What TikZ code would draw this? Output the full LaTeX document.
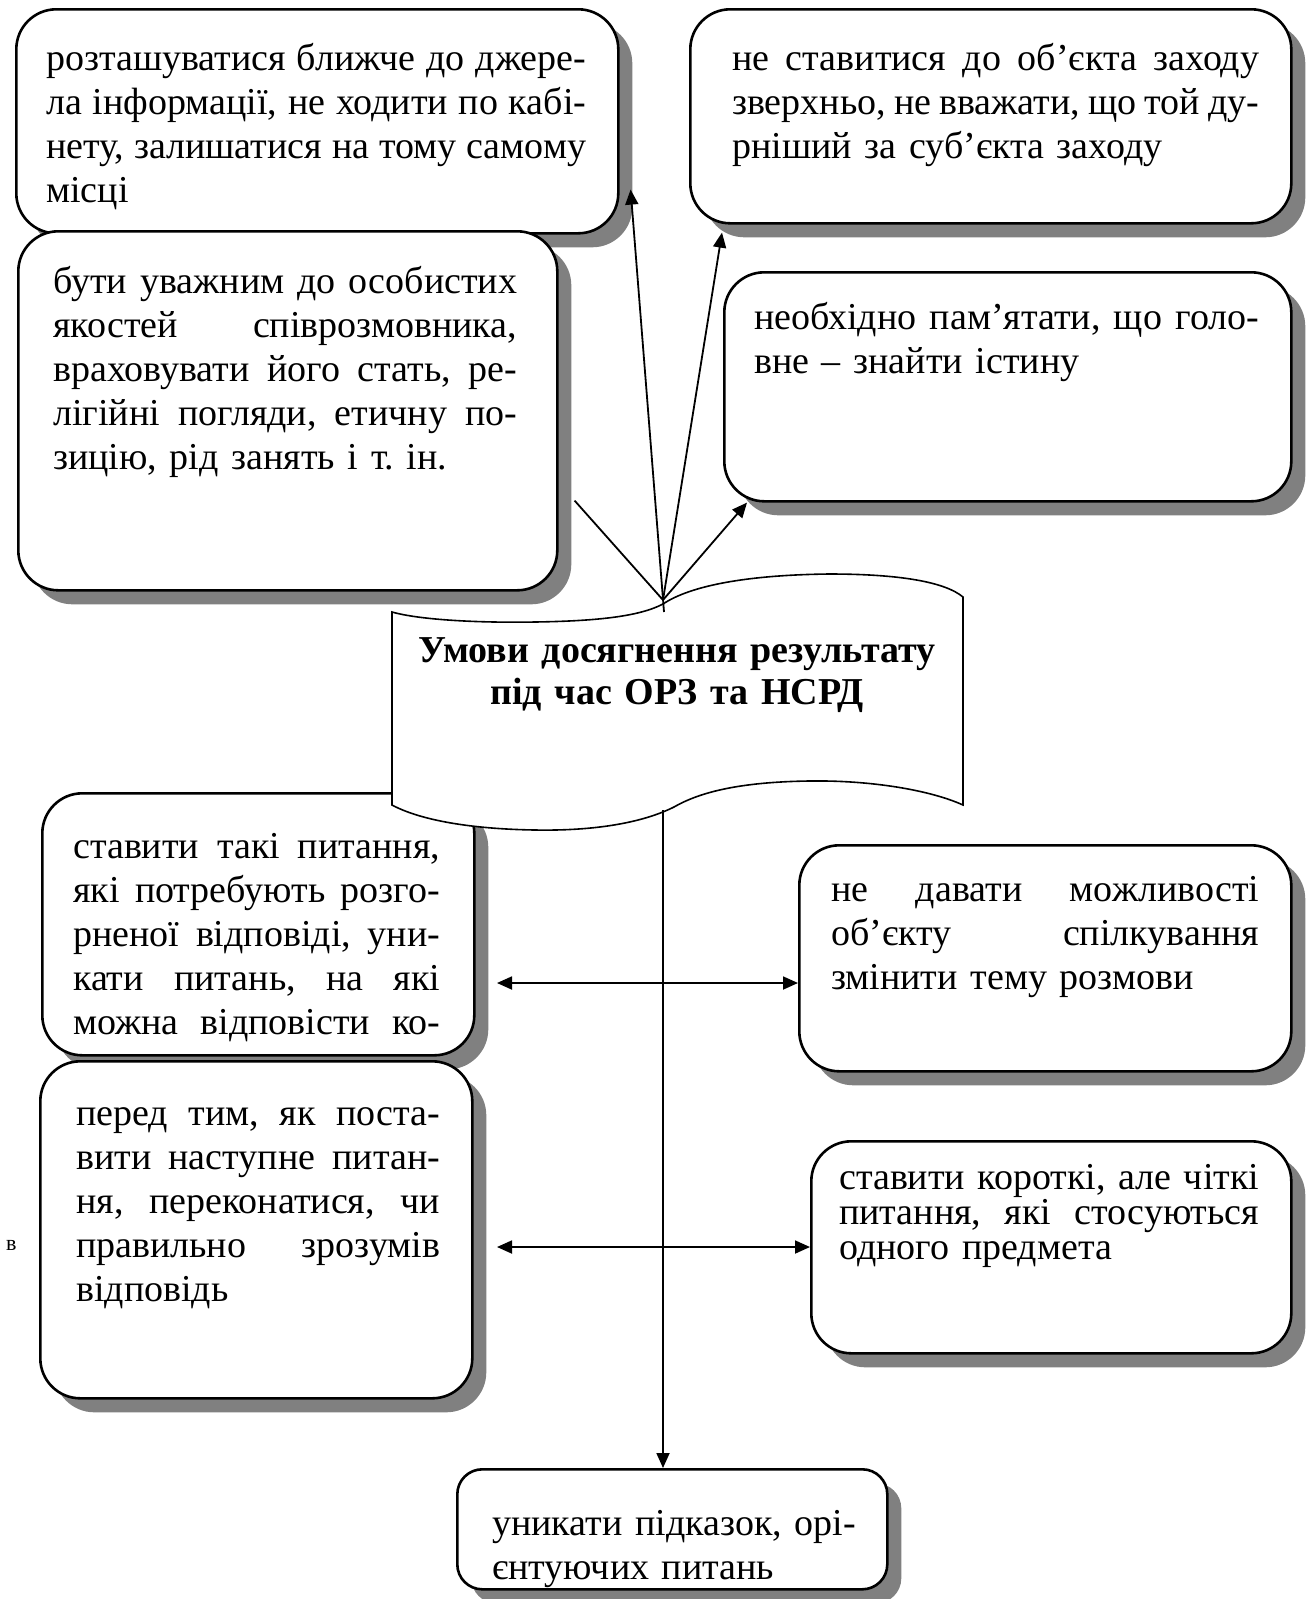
\documentclass[tikz,border=0pt]{standalone}
\usepackage{fontspec}
\setmainfont{Liberation Serif}
\usetikzlibrary{arrows.meta,shadows,calc}
\frenchspacing

\newlength{\jw}
\newcommand{\jl}[1]{\leavevmode\hbox to \jw{\spaceskip=0.25em plus 1fil minus 0.12em\relax #1}}
\newcommand{\bodyfont}{\fontsize{38}{44}\selectfont}

\begin{document}
\begin{tikzpicture}[x=1pt,y=-1pt,
  box/.style={draw,line width=2.6pt,rounded corners=40pt,fill=white,anchor=north west,
    drop shadow={shadow xshift=14pt,shadow yshift=-14pt,fill=black!50,opacity=1}},
  txt/.style={inner sep=0pt,anchor=base west,align=left,font=\bodyfont,
    text width=#1,execute at begin node={\setlength{\jw}{#1}}},
  conn/.style={line width=1.8pt},
  arr/.style={conn,-{Triangle[length=15pt,width=13pt]}},
  twoway/.style={conn,{Triangle[length=15pt,width=13pt]}-{Triangle[length=15pt,width=13pt]}}]
  \useasboundingbox (0,0) rectangle (1306,1599);

  % boxes round the banner
  \node[box,minimum width=602pt,minimum height=224pt] (b1) at (15,8) {};
  \node[box,minimum width=601pt,minimum height=214pt] (b2) at (689,8) {};
  \node[box,minimum width=567pt,minimum height=229pt] (b4) at (723,271) {};
  \node[box,minimum width=432pt,minimum height=262pt] (b5) at (41,792) {};
  \node[box,minimum width=492pt,minimum height=226pt] (b7) at (798,844) {};

  % banner
  \draw[line width=1.6pt,fill=white]
    (392,612) .. controls (420,620) and (480,623) .. (535,622)
    .. controls (600,621) and (640,616) .. (663,604)
    .. controls (690,586) and (745,575) .. (829,574)
    .. controls (900,574) and (945,582) .. (963,597)
    -- (963,805)
    .. controls (930,790) and (870,780) .. (809,781)
    .. controls (740,782) and (700,792) .. (674,807)
    .. controls (640,824) and (590,831) .. (535,830)
    .. controls (470,829) and (420,820) .. (392,805) -- cycle;

  \node[box,minimum width=539pt,minimum height=359pt] (b3) at (17,230) {};
  \node[box,minimum width=432pt,minimum height=337pt] (b6) at (39,1060) {};
  \node[box,minimum width=480pt,minimum height=212pt] (b8) at (810,1140) {};
  \node[box,rounded corners=25pt,minimum width=430pt,minimum height=120pt] (b9) at (456,1468) {};

  % texts
  \node[txt=540pt] (t1) at (46,70)
    {\jl{розташуватися ближче до джере-}\\\jl{ла інформації, не ходити по кабі-}\\\jl{нету, залишатися на тому самому}\\місці};
  \node[txt=527pt] (t2) at (732,70)
    {\jl{не ставитися до об’єкта заходу}\\\jl{зверхньо, не вважати, що той ду-}\\рніший за суб’єкта заходу};
  \node[txt=464pt] (t3) at (53,293)
    {\jl{бути уважним до особистих}\\\jl{якостей співрозмовника,}\\\jl{враховувати його стать, ре-}\\\jl{лігійні погляди, етичну по-}\\зицію, рід занять і т. ін.};
  \node[txt=505pt] (t4) at (754,329)
    {\jl{необхідно пам’ятати, що голо-}\\вне – знайти істину};
  \node[txt=367pt] (t5) at (73,858)
    {\jl{ставити такі питання,}\\\jl{які потребують розго-}\\\jl{рненої відповіді, уни-}\\\jl{кати питань, на які}\\\jl{можна відповісти ко-}};
  \node[txt=364pt] (t6) at (76,1125)
    {\jl{перед тим, як поста-}\\\jl{вити наступне питан-}\\\jl{ня, переконатися, чи}\\\jl{правильно зрозумів}\\відповідь};
  \node[txt=428pt] (t7) at (831,901)
    {\jl{не давати можливості}\\\jl{об’єкту спілкування}\\змінити тему розмови};
  \node[txt=420pt,font=\fontsize{38}{35}\selectfont] (t8) at (839,1189)
    {\jl{ставити короткі, але чіткі}\\\jl{питання, які стосуються}\\одного предмета};
  \node[txt=380pt] (t9) at (492,1535)
    {уникати підказок, орі-\\єнтуючих питань};
  \node[inner sep=0pt,anchor=base west,font=\fontsize{22}{26}\selectfont] (mark) at (6,1250) {в};

  \node[inner sep=0pt,anchor=base,align=center,text width=600pt,
    font=\bfseries\fontsize{38}{42}\selectfont] (goal) at (677,662)
    {Умови досягнення результату\\під час ОРЗ та НСРД};

  % connectors
  \coordinate (hub) at (663,600);
  \coordinate (hubA) at (664,612);
  \coordinate (foot) at (663,810);
  \coordinate (left1) at (497,983);
  \coordinate (left2) at (497,1247);
  \draw[arr] (hubA) -- ($(b1.south east)+(11,-45)$);
  \draw[arr] (hub) -- ($(b2.south west)+(33,8)$);
  \draw[arr] (hub) -- ($(b4.south west)+(24,0)$);
  \draw[conn] (hub) -- ($(b3.south east)+(16,-91)$);
  \draw[arr] (foot) -- (foot |- b9.north);
  \draw[twoway] (left1) -- (left1 -| b7.west);
  \draw[twoway] (left2) -- (left2 -| b8.west);
\end{tikzpicture}
\end{document}
